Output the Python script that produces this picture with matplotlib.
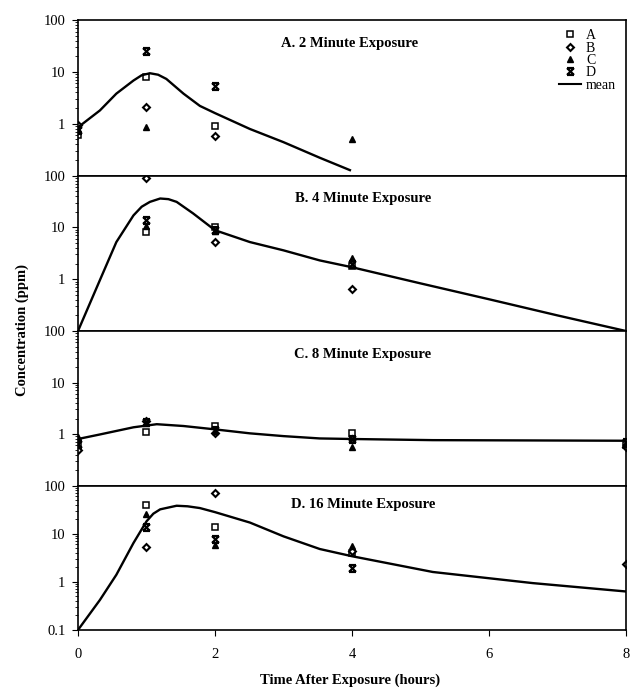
import numpy as np
import matplotlib
matplotlib.use("Agg")
import matplotlib.pyplot as plt
from matplotlib.path import Path
from matplotlib.lines import Line2D

plt.rcParams["font.family"] = ["Liberation Serif", "DejaVu Serif"]

nan = np.nan
times = [0, 1, 2, 4, 8]
subjects = ["A", "B", "C", "D"]
titles = ["A. 2 Minute Exposure", "B. 4 Minute Exposure",
          "C. 8 Minute Exposure", "D. 16 Minute Exposure"]

# measured concentrations (ppm) per subject, at times 0, 1, 2, 4, 8 h
exp2 = {
    "A": [0.6, 7.9, 0.91, nan, nan],
    "B": [0.95, 2.1, 0.59, nan, nan],
    "C": [0.8, 0.85, nan, 0.5, nan],
    "D": [0.75, 25, 5.4, nan, nan],
}
exp4 = {
    "A": [nan, 8.0, 10.0, 1.8, nan],
    "B": [nan, 88, 5.2, 0.66, nan],
    "C": [nan, 10.5, 8.5, 2.6, nan],
    "D": [nan, 14, 9.0, 2.0, nan],
}
exp8 = {
    "A": [0.58, 1.07, 1.4, 1.05, 0.6],
    "B": [0.5, 1.8, 1.05, 0.8, 0.55],
    "C": [0.88, 1.6, 1.15, 0.55, 0.65],
    "D": [0.65, 1.7, 1.2, 0.8, 0.7],
}
exp16 = {
    "A": [nan, 39, 14, 4.0, nan],
    "B": [nan, 5.2, 70, 4.3, 2.4],
    "C": [nan, 26, 5.7, 5.5, nan],
    "D": [nan, 14, 7.8, 1.9, nan],
}

# mean curves
mean2_t = [0, 0.32, 0.56, 0.81, 0.93, 1.05, 1.17, 1.29, 1.54, 1.78, 2, 2.51, 3.0, 3.53, 3.97]
mean2_v = [0.85, 1.8, 3.8, 6.8, 8.6, 9.4, 8.8, 7.3, 3.8, 2.2, 1.6, 0.79, 0.44, 0.22, 0.127]
mean4_t = [0, 0.32, 0.56, 0.81, 0.93, 1.05, 1.2, 1.32, 1.44, 1.68, 2, 2.51, 3, 3.53, 4, 5, 6, 7, 8]
mean4_v = [0.1, 0.96, 5.2, 17, 25, 31, 36, 35, 31, 18.6, 8.8, 5.2, 3.6, 2.3, 1.7, 0.83, 0.41, 0.2, 0.1]
mean8_t = [0, 0.32, 0.81, 1.15, 1.54, 2, 2.51, 3, 3.53, 4, 5.18, 6.64, 8]
mean8_v = [0.8, 0.98, 1.35, 1.55, 1.43, 1.23, 1.03, 0.91, 0.82, 0.8, 0.76, 0.75, 0.74]
mean16_t = [0, 0.32, 0.56, 0.81, 1.0, 1.1, 1.2, 1.44, 1.6, 1.78, 2, 2.51, 3, 3.53, 4, 5.18, 6.64, 8]
mean16_v = [0.1, 0.42, 1.4, 6.4, 18, 26, 32, 38, 37, 34, 28, 17, 8.8, 4.8, 3.4, 1.6, 0.94, 0.63]

panels = [
    (exp2, mean2_t, mean2_v),
    (exp4, mean4_t, mean4_v),
    (exp8, mean8_t, mean8_v),
    (exp16, mean16_t, mean16_v),
]

# Excel-style "star" marker: x with bars top and bottom
star = Path([(-1, -1), (1, 1), (-1, 1), (1, -1), (-1, 1), (1, 1), (-1, -1), (1, -1)],
            [Path.MOVETO, Path.LINETO, Path.MOVETO, Path.LINETO,
             Path.MOVETO, Path.LINETO, Path.MOVETO, Path.LINETO])

styles = {
    "A": dict(marker="s", markersize=4.5, markerfacecolor="white", markeredgewidth=1.1),
    "B": dict(marker="D", markersize=3.5, markerfacecolor="white", markeredgewidth=1.5),
    "C": dict(marker="^", markersize=4.5, markerfacecolor="black", markeredgewidth=1.0),
    "D": dict(marker=star, markersize=5, markerfacecolor="none", markeredgewidth=1.6),
}

fig = plt.figure(figsize=(6.31, 6.90), dpi=100)
gs = fig.add_gridspec(4, 1, height_ratios=[155, 155, 154, 144], hspace=0,
                      left=0.1236, right=0.992, top=0.971, bottom=0.087)

for i, (data, mt, mv) in enumerate(panels):
    ax = fig.add_subplot(gs[i])
    for s in subjects:
        ax.plot(times, data[s], linestyle="none", color="black",
                markeredgecolor="black", **styles[s])
    ax.plot(mt, mv, color="black", linewidth=1.7, solid_joinstyle="round")
    ax.set_yscale("log")
    ax.set_ylim(0.1, 100)
    ax.set_xlim(0, 8)
    for sp in ax.spines.values():
        sp.set_linewidth(1.2)
    if i == 3:
        ax.set_yticks([0.1, 1, 10, 100], ["0.1", "1", "10", "100"])
        ax.set_xticks([0, 2, 4, 6, 8])
        ax.tick_params(axis="x", direction="out", length=4, pad=9, labelsize=10.5)
        ypos = 0.87
    else:
        ax.set_yticks([1, 10, 100], ["1", "10", "100"])
        ax.set_xticks([])
        ypos = 0.85
    ax.tick_params(axis="y", which="major", direction="out", length=4, pad=5, labelsize=10.5)
    ax.tick_params(axis="y", which="minor", direction="out", length=2)
    ax.yaxis.set_minor_formatter(matplotlib.ticker.NullFormatter())
    xpos = 0.496 if i == 0 else 0.52
    ax.text(xpos, ypos, titles[i], transform=ax.transAxes, ha="center", va="center",
            fontsize=10.5, fontweight="bold")

    if i == 0:
        handles = [Line2D([], [], linestyle="none", color="black",
                          markeredgecolor="black", **styles[s]) for s in subjects]
        handles.append(Line2D([], [], color="black", linewidth=1.5))
        ax.legend(handles, subjects + ["mean"], loc="upper right",
                  bbox_to_anchor=(0.982, 0.94), frameon=False, fontsize=10,
                  labelspacing=-0.05, handlelength=1.6, handletextpad=0.35,
                  borderpad=0, borderaxespad=0)

fig.text(0.035, 0.522, "Concentration (ppm)", rotation=90, ha="center", va="center",
         fontsize=10.5, fontweight="bold")
fig.text(0.555, 0.0145, "Time After Exposure (hours)", ha="center", va="center",
         fontsize=10.5, fontweight="bold")

fig.savefig("out.png", dpi=100)
